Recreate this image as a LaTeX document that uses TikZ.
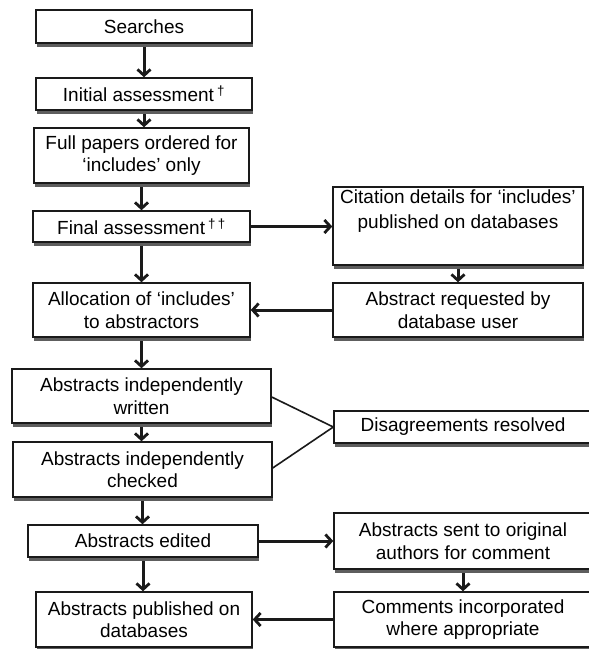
\documentclass[tikz,border=0pt]{standalone}
\usepackage{fontspec}
\setmainfont{Liberation Sans}
\usetikzlibrary{arrows.meta,shadows}
\definecolor{ink}{HTML}{1A1A1A}
\definecolor{shade}{HTML}{5E5E5E}
\tikzset{
  box/.style={draw=ink, line width=1.4pt, fill=white, rectangle, inner sep=0pt,
    align=center, font=\fontsize{19}{22.5}\selectfont,
    drop shadow={shadow xshift=1pt, shadow yshift=-3.5pt, fill=shade, opacity=1}},
  arr/.style={draw=ink, line width=3pt, -{Straight Barb[length=6pt,width=13pt,line width=2.8pt]}},
  thinline/.style={draw=ink, line width=1.6pt},
  lbl/.style={align=center, font=\fontsize{19}{25}\selectfont, inner sep=0pt}
}
\begin{document}
\begin{tikzpicture}[x=1pt,y=-1pt]
\useasboundingbox (0,0) rectangle (589,649);
\clip (0,0) rectangle (589,649);
% left column
\node[box, minimum width=216pt, minimum height=33pt] (search) at (144,26.5) {Searches};
\node[box, minimum width=216pt, minimum height=32pt] (init) at (144,94) {Initial assessment\,\textsuperscript{†}};
\node[box, minimum width=215pt, minimum height=55pt] (full) at (141.5,155.5) {Full papers ordered for\\‘includes’ only};
\node[box, minimum width=217pt, minimum height=31pt] (final) at (141.5,226.5) {Final assessment\,\textsuperscript{†\,†}};
\node[box, minimum width=217pt, minimum height=54pt] (alloc) at (141.5,310) {Allocation of ‘includes’\\to abstractors};
\node[box, minimum width=259pt, minimum height=54pt] (written) at (141.5,396) {Abstracts independently\\written};
\node[box, minimum width=259pt, minimum height=55pt] (checked) at (142.5,469.5) {Abstracts independently\\checked};
\node[box, minimum width=230pt, minimum height=32pt] (edited) at (143,541) {Abstracts edited};
\node[box, minimum width=216pt, minimum height=55pt] (published) at (144,619.5) {Abstracts published on\\databases};
% right column
\node[box, minimum width=250pt, minimum height=78pt] (cit) at (458,226) {};
\node[lbl] at (458,211) {Citation details for ‘includes’\\published on databases};
\node[box, minimum width=250pt, minimum height=54pt] (req) at (458,310) {Abstract requested by\\database user};
\node[box, minimum width=258pt, minimum height=32pt] (disag) at (463,427) {Disagreements resolved};
\node[box, minimum width=258pt, minimum height=56pt] (sent) at (463,541) {Abstracts sent to original\\authors for comment};
\node[box, minimum width=258pt, minimum height=55pt] (comments) at (463,619.5) {Comments incorporated\\where appropriate};
% vertical arrows
\draw[arr] ([yshift=-3.5pt]search.south) -- (search.south |- init.north);
\draw[arr] ([yshift=-3.5pt]init.south) -- (init.south |- full.north);
\draw[arr] ([yshift=-3.5pt]full.south) -- (full.south |- final.north);
\draw[arr] ([yshift=-3.5pt]final.south) -- (final.south |- alloc.north);
\draw[arr] ([yshift=-3.5pt]alloc.south) -- (alloc.south |- written.north);
\draw[arr] ([yshift=-3.5pt]written.south) -- (written.south |- checked.north);
\draw[arr] ([yshift=-3.5pt]checked.south) -- (checked.south |- edited.north);
\draw[arr] ([yshift=-3.5pt]edited.south) -- (edited.south |- published.north);
\draw[arr] ([yshift=-3.5pt]cit.south) -- (cit.south |- req.north);
\draw[arr] ([yshift=-3.5pt]sent.south) -- (sent.south |- comments.north);
% horizontal arrows
\draw[arr] (final.east) -- (final.east -| cit.west);
\draw[arr] (req.west) -- (req.west -| alloc.east);
\draw[arr] (edited.east) -- (edited.east -| sent.west);
\draw[arr] (comments.west) -- (comments.west -| published.east);
% lines to disagreements
\draw[thinline] ([yshift=-1pt]written.east) -- (disag.west);
\draw[thinline] ([yshift=1.5pt]checked.east) -- (disag.west);
\end{tikzpicture}
\end{document}
